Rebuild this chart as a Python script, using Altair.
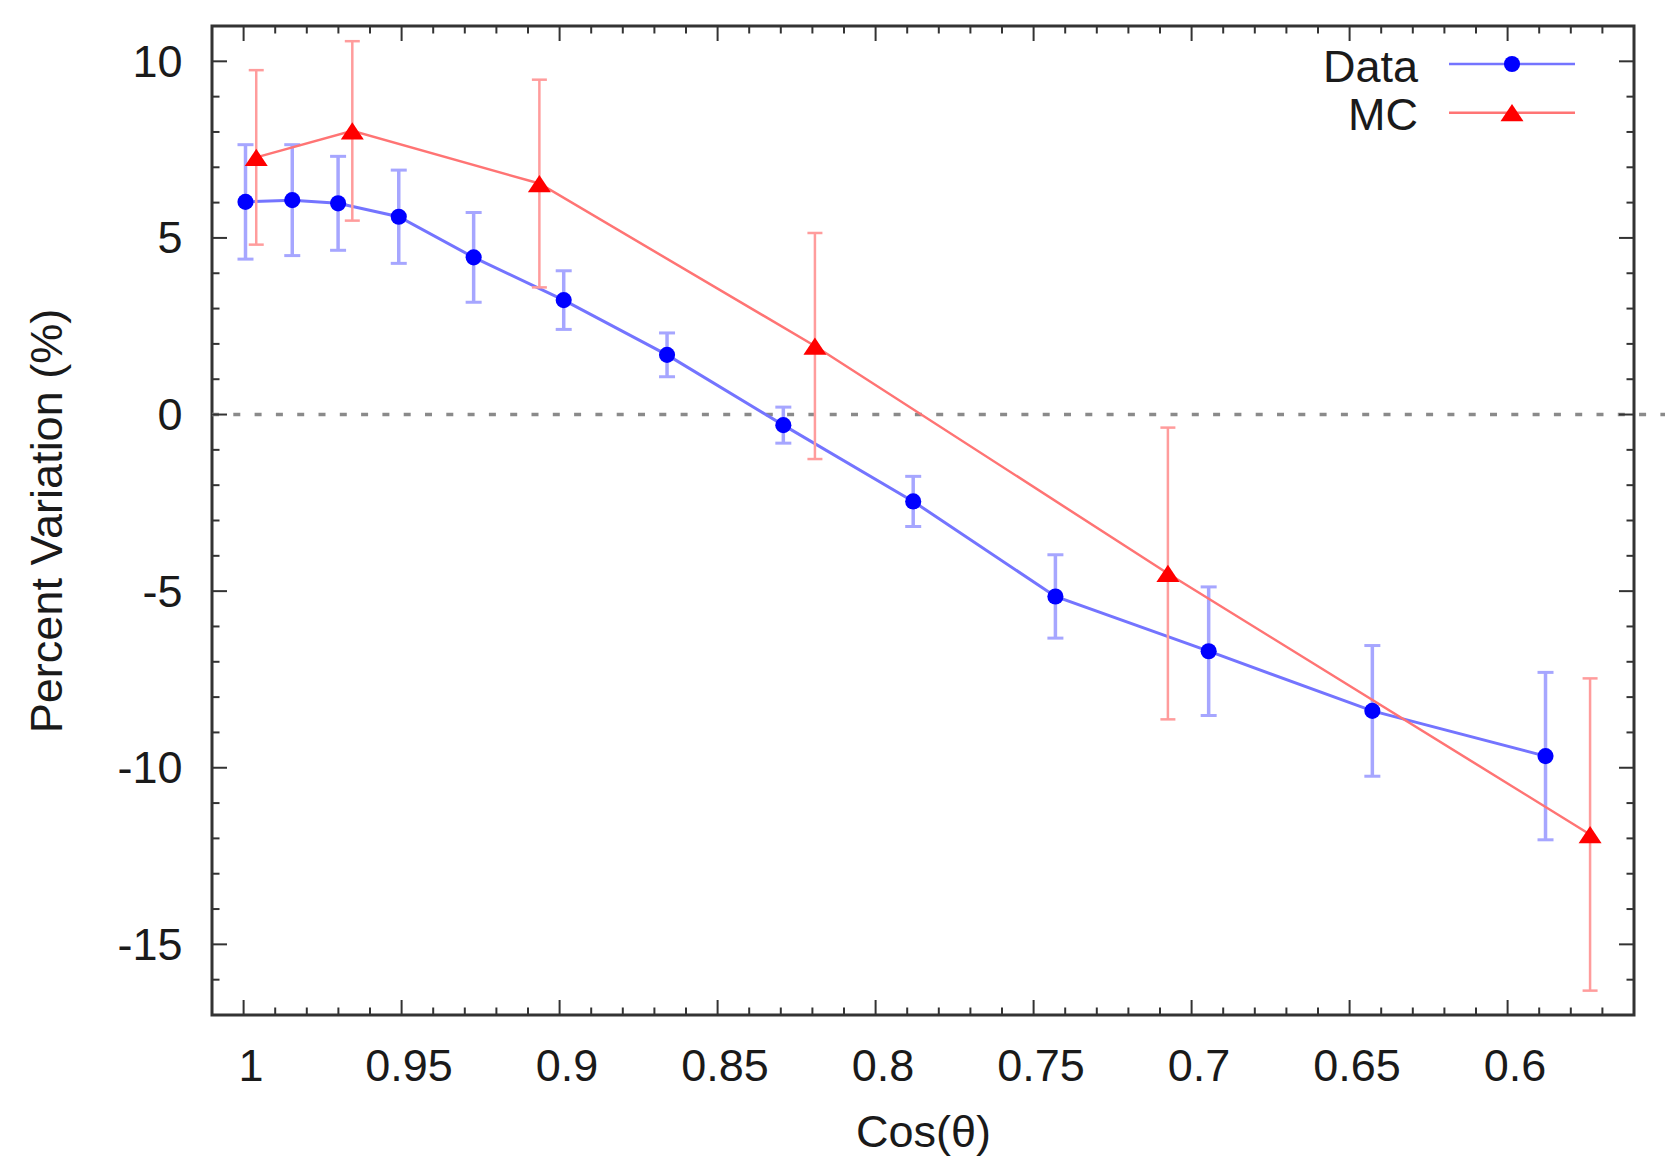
import altair as alt
import pandas as pd

# ---------------- data ----------------
series_names = ["Data", "MC"]

data_cos = [0.9994, 0.9846, 0.9701, 0.9509, 0.9272, 0.8987, 0.8660, 0.8292,
            0.7881, 0.7431, 0.6946, 0.6428, 0.5880]
data_pct = [6.02, 6.07, 5.98, 5.60, 4.45, 3.24, 1.69, -0.30,
            -2.46, -5.15, -6.70, -8.39, -9.67]
data_err = [1.62, 1.57, 1.33, 1.32, 1.27, 0.83, 0.62, 0.51,
            0.71, 1.18, 1.82, 1.85, 2.37]

mc_cos = [0.9960, 0.9656, 0.9064, 0.8192, 0.7075, 0.5739]
mc_pct = [7.28, 8.03, 6.54, 1.94, -4.50, -11.89]
mc_err = [2.47, 2.54, 2.94, 3.20, 4.13, 4.42]

x_major = [1.0, 0.95, 0.9, 0.85, 0.8, 0.75, 0.7, 0.65, 0.6]
y_major = [-15, -10, -5, 0, 5, 10]
x_minor = [v / 100 for v in range(57, 100) if v % 5 != 0]
y_minor = [v for v in range(-16, 11) if v % 5 != 0]
zero_line = [0]

# ---------------- layout / style ----------------
W, H = 1422, 989
FONT = "Liberation Sans"
TXT = "#1a1a1a"
FRAME = "#333333"
FS = 45

BLUE = "#0000ff"
BLUE_LINE = "#7474ff"
BLUE_ERR = "#a6a6ff"
RED = "#ff0000"
RED_LINE = "#ff7474"
RED_ERR = "#ff9c9c"
TRI = "M0,-0.75L1,0.75L-1,0.75Z"

xscale = alt.Scale(domain=[0.56, 1.01], reverse=True, nice=False, zero=False)
yscale = alt.Scale(domain=[-17, 11], nice=False, zero=False)

xaxis = alt.Axis(values=x_major, labelExpr="'' + datum.value", ticks=False, tickSize=0,
                 domain=False, grid=False, labelFont=FONT, labelFontSize=FS,
                 labelColor=TXT, labelPadding=65, labelBaseline="alphabetic",
                 labelOffset=7, labelFlush=False, labelOverlap=False,
                 title="Cos(θ)", titleFont=FONT, titleFontSize=FS,
                 titleFontWeight="normal", titleColor=TXT, titleX=W / 2, titleY=131,
                 titleAlign="center", titleBaseline="alphabetic")
yaxis = alt.Axis(values=y_major, labelExpr="'' + datum.value", ticks=False, tickSize=0,
                 domain=False, grid=False, labelFont=FONT, labelFontSize=FS,
                 labelColor=TXT, labelPadding=30, labelOffset=1, labelFlush=False,
                 labelOverlap=False, title="Percent Variation (%)", titleFont=FONT,
                 titleFontSize=FS, titleFontWeight="normal", titleColor=TXT,
                 titleAngle=270, titleX=-151, titleY=H / 2, titleAlign="center",
                 titleBaseline="alphabetic")


def X(f):
    return alt.X(f, type="quantitative", scale=xscale, axis=xaxis)


def Y(f):
    return alt.Y(f, type="quantitative", scale=yscale, axis=yaxis)


df_d = pd.DataFrame({"cos": data_cos, "pct": data_pct, "err": data_err})
df_d["lo"] = df_d["pct"] - df_d["err"]
df_d["hi"] = df_d["pct"] + df_d["err"]
df_m = pd.DataFrame({"cos": mc_cos, "pct": mc_pct, "err": mc_err})
df_m["lo"] = df_m["pct"] - df_m["err"]
df_m["hi"] = df_m["pct"] + df_m["err"]

caps_d = pd.DataFrame({"cos": list(df_d["cos"]) * 2, "v": list(df_d["lo"]) + list(df_d["hi"])})
caps_m = pd.DataFrame({"cos": list(df_m["cos"]) * 2, "v": list(df_m["lo"]) + list(df_m["hi"])})

layers = []

# zero reference line (dotted)
layers.append(
    alt.Chart(pd.DataFrame({"z": zero_line})).mark_rule(
        color="#8a8a8a", strokeWidth=3.5, strokeDash=[7, 14.3]
    ).encode(y=Y("z"), x=alt.value(0), x2=alt.value(W + 31))
)

# inward ticks on all four sides
xt_major = pd.DataFrame({"v": x_major})
xt_minor = pd.DataFrame({"v": x_minor})
yt_major = pd.DataFrame({"v": y_major})
yt_minor = pd.DataFrame({"v": y_minor})
for df_t, L in [(xt_major, 15), (xt_minor, 7.5)]:
    layers.append(alt.Chart(df_t).mark_rule(color=FRAME, strokeWidth=2).encode(
        x=X("v"), y=alt.value(0), y2=alt.value(L)))
    layers.append(alt.Chart(df_t).mark_rule(color=FRAME, strokeWidth=2).encode(
        x=X("v"), y=alt.value(H), y2=alt.value(H - L)))
for df_t, L in [(yt_major, 15), (yt_minor, 7.5)]:
    layers.append(alt.Chart(df_t).mark_rule(color=FRAME, strokeWidth=2).encode(
        y=Y("v"), x=alt.value(0), x2=alt.value(L)))
    layers.append(alt.Chart(df_t).mark_rule(color=FRAME, strokeWidth=2).encode(
        y=Y("v"), x=alt.value(W), x2=alt.value(W - L)))

# Data series
layers.append(alt.Chart(df_d).mark_rule(color=BLUE_ERR, strokeWidth=3.5).encode(
    x=X("cos"), y=Y("lo"), y2="hi"))
layers.append(alt.Chart(caps_d).mark_tick(orient="horizontal", size=16, thickness=3,
                                         color=BLUE_ERR, opacity=1).encode(x=X("cos"), y=Y("v")))
layers.append(alt.Chart(df_d).mark_line(color=BLUE_LINE, strokeWidth=3).encode(
    x=X("cos"), y=Y("pct"), order="cos"))
layers.append(alt.Chart(df_d).mark_point(shape="circle", filled=True, size=260,
                                        color=BLUE, opacity=1).encode(x=X("cos"), y=Y("pct")))

# MC series
layers.append(alt.Chart(df_m).mark_rule(color=RED_ERR, strokeWidth=2.5).encode(
    x=X("cos"), y=Y("lo"), y2="hi"))
layers.append(alt.Chart(caps_m).mark_tick(orient="horizontal", size=15, thickness=2.5,
                                         color=RED_ERR, opacity=1).encode(x=X("cos"), y=Y("v")))
layers.append(alt.Chart(df_m).mark_line(color=RED_LINE, strokeWidth=2.5).encode(
    x=X("cos"), y=Y("pct"), order="cos"))
layers.append(alt.Chart(df_m).mark_point(shape=TRI, filled=True, size=529,
                                        color=RED, opacity=1).encode(x=X("cos"), y=Y("pct")))

# legend (top-right, inside the frame)
leg_d = pd.DataFrame({"label": [series_names[0]]})
leg_m = pd.DataFrame({"label": [series_names[1]]})
for df_l, ty, lc, mshape, msize, mcol in [
    (leg_d, 38, BLUE_LINE, "circle", 260, BLUE),
    (leg_m, 86.7, RED_LINE, TRI, 529, RED),
]:
    layers.append(alt.Chart(df_l).mark_text(
        align="right", baseline="alphabetic", font=FONT, fontSize=FS, color=TXT
    ).encode(text="label:N", x=alt.value(1206), y=alt.value(ty + 17.7)))
    layers.append(alt.Chart(df_l).mark_rule(color=lc, strokeWidth=2.5).encode(
        x=alt.value(1237), x2=alt.value(1363), y=alt.value(ty)))
    layers.append(alt.Chart(df_l).mark_point(shape=mshape, filled=True, size=msize,
                                            color=mcol, opacity=1).encode(
        x=alt.value(1300), y=alt.value(ty)))

chart = alt.layer(*layers).properties(
    width=W, height=H,
    autosize=alt.AutoSizeParams(type="none"),
    padding={"left": 204, "top": 18, "right": 38, "bottom": 143},
    background="white",
).configure_view(stroke=FRAME, strokeWidth=3)

chart.save("out.html", embed_options={"renderer": "svg", "actions": False})
